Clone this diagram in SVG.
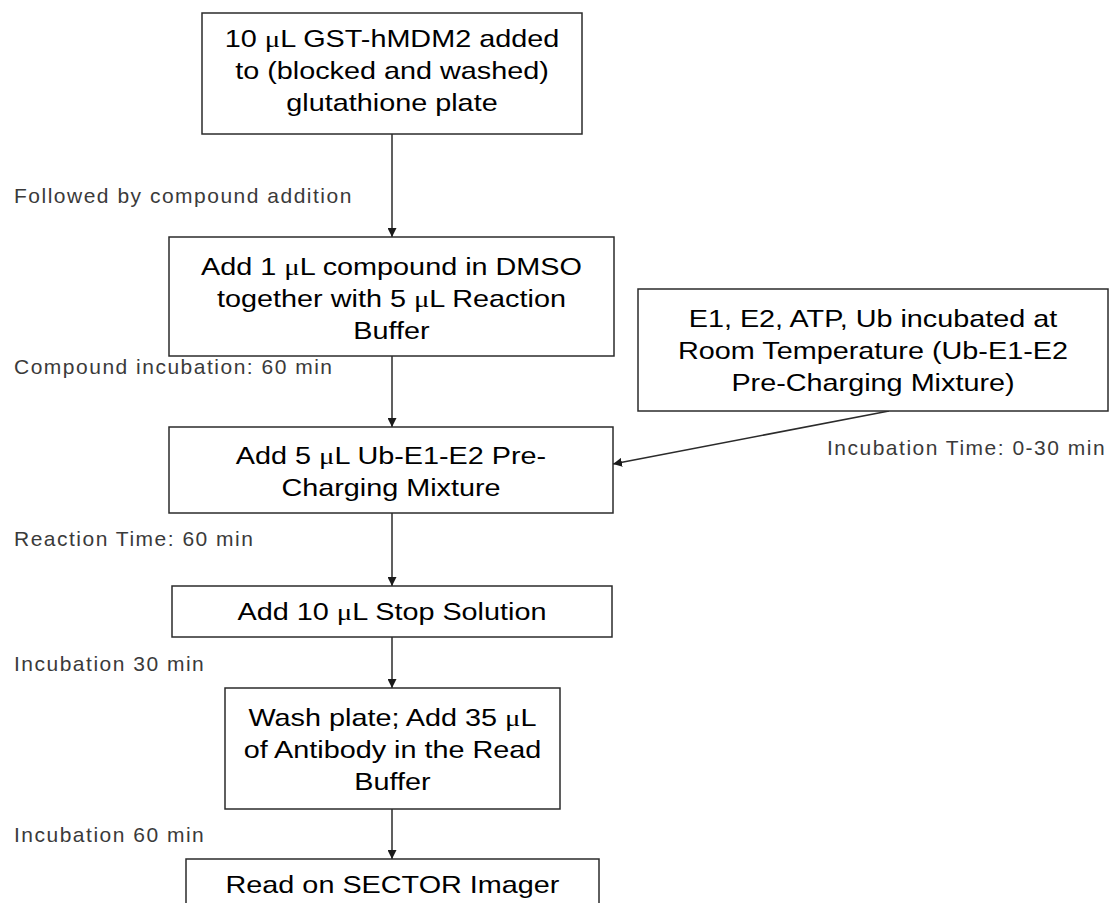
<svg xmlns="http://www.w3.org/2000/svg" width="1113" height="903" viewBox="0 0 1113 903">
<defs>
<style>
.box{fill:#fff;stroke:#2b2b2b;stroke-width:1.5}
.t{font-family:"Liberation Sans",Arial,sans-serif;font-size:24px;fill:#000;text-anchor:middle}
.lab{font-family:"Liberation Sans",Arial,sans-serif;font-size:21px;fill:#3a3a3a;text-anchor:start;letter-spacing:1.5px}
.mu{font-family:"Liberation Serif","Times New Roman",serif}
.conn{stroke:#2b2b2b;stroke-width:1.5;fill:none;marker-end:url(#ah)}
</style>
<marker id="ah" viewBox="0 0 10 10" refX="10" refY="5" markerWidth="9" markerHeight="9" markerUnits="userSpaceOnUse" orient="auto">
<path d="M0,0 L10,5 L0,10 z" fill="#1a1a1a"/>
</marker>
</defs>
<rect width="1113" height="903" fill="#fff"/>
<g id="connectors">
<line class="conn" x1="392" y1="134" x2="392" y2="237"/>
<line class="conn" x1="392" y1="356" x2="392" y2="427"/>
<line class="conn" x1="392" y1="513" x2="392" y2="586"/>
<line class="conn" x1="392" y1="637" x2="392" y2="688"/>
<line class="conn" x1="392" y1="809" x2="392" y2="859"/>
<line class="conn" x1="889" y1="411" x2="613" y2="464"/>
</g>
<g id="labels">
<text class="lab" x="14" y="203">Followed by compound addition</text>
<text class="lab" x="14" y="374">Compound incubation: 60 min</text>
<text class="lab" x="827" y="455">Incubation Time: 0-30 min</text>
<text class="lab" x="14" y="546">Reaction Time: 60 min</text>
<text class="lab" x="14" y="671">Incubation 30 min</text>
<text class="lab" x="14" y="842">Incubation 60 min</text>
</g>
<g id="n1">
<rect class="box" x="202" y="13" width="380" height="121"/>
<g transform="translate(392,0) scale(1.2,1)">
<text class="t" x="0" y="47">10 <tspan class="mu">μ</tspan>L GST-hMDM2 added</text>
<text class="t" x="0" y="79">to (blocked and washed)</text>
<text class="t" x="0" y="111">glutathione plate</text>
</g>
</g>
<g id="n2">
<rect class="box" x="169" y="237" width="445" height="119"/>
<g transform="translate(391.5,0) scale(1.2,1)">
<text class="t" x="0" y="275">Add 1 <tspan class="mu">μ</tspan>L compound in DMSO</text>
<text class="t" x="0" y="307">together with 5 <tspan class="mu">μ</tspan>L Reaction</text>
<text class="t" x="0" y="339">Buffer</text>
</g>
</g>
<g id="n3">
<rect class="box" x="638" y="289" width="470" height="122"/>
<g transform="translate(873,0) scale(1.2,1)">
<text class="t" x="0" y="327">E1, E2, ATP, Ub incubated at</text>
<text class="t" x="0" y="359">Room Temperature (Ub-E1-E2</text>
<text class="t" x="0" y="391">Pre-Charging Mixture)</text>
</g>
</g>
<g id="n4">
<rect class="box" x="169" y="427" width="444" height="86"/>
<g transform="translate(391,0) scale(1.2,1)">
<text class="t" x="0" y="464">Add 5 <tspan class="mu">μ</tspan>L Ub-E1-E2 Pre-</text>
<text class="t" x="0" y="496">Charging Mixture</text>
</g>
</g>
<g id="n5">
<rect class="box" x="172" y="586" width="440" height="51"/>
<g transform="translate(392,0) scale(1.2,1)">
<text class="t" x="0" y="620">Add 10 <tspan class="mu">μ</tspan>L Stop Solution</text>
</g>
</g>
<g id="n6">
<rect class="box" x="225" y="688" width="335" height="121"/>
<g transform="translate(392.5,0) scale(1.2,1)">
<text class="t" x="0" y="726">Wash plate; Add 35 <tspan class="mu">μ</tspan>L</text>
<text class="t" x="0" y="758">of Antibody in the Read</text>
<text class="t" x="0" y="790">Buffer</text>
</g>
</g>
<g id="n7">
<rect class="box" x="186" y="859" width="413" height="60"/>
<g transform="translate(392.5,0) scale(1.2,1)">
<text class="t" x="0" y="893">Read on SECTOR Imager</text>
</g>
</g>
</svg>
